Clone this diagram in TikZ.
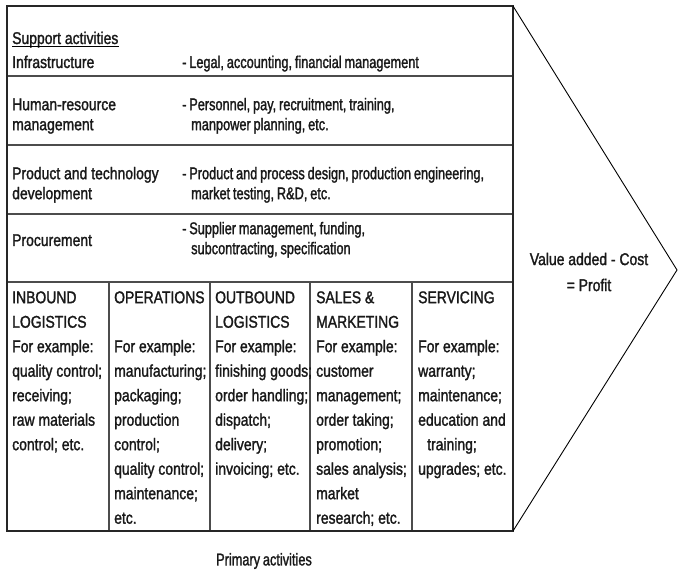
\documentclass[tikz,border=0pt]{standalone}
\usepackage{fontspec}
\setmainfont[FakeStretch=0.82, FakeBold=1.5]{Liberation Sans}
\newfontfamily\descfont[FakeStretch=0.75, WordSpace=0.8, FakeBold=1.5]{Liberation Sans}
\newcommand{\mystrut}{\rule{0pt}{12.5pt}}
\begin{document}
\begin{tikzpicture}[x=1pt,y=-1pt,
  boxline/.style={line width=1.2pt, draw=black!85},
  rowsep/.style={line width=1.7pt, draw=black!70},
  colsep/.style={line width=1.3pt, draw=black!70},
  arrowline/.style={line width=0.9pt, draw=black},
  txt/.style={anchor=north west, inner sep=0pt, align=left, text=black!90,
              font=\fontsize{17}{20}\selectfont},
  desc/.style={anchor=north west, inner sep=0pt, align=left, text=black!90,
              font=\descfont\fontsize{17}{20}\selectfont},
  coltxt/.style={anchor=north west, inner sep=0pt, align=left, text=black!90,
              font=\fontsize{17}{24.5}\selectfont},
  single/.style={anchor=base west, inner sep=0pt, text=black!90,
              font=\fontsize{17}{20}\selectfont}]
\useasboundingbox (0,0) rectangle (678,572);
% frame
\coordinate (tl) at (7,6);
\coordinate (tr) at (513,6);
\coordinate (br) at (513,531);
\coordinate (bl) at (7,531);
\coordinate (tip) at (677,270);
\draw[rowsep] (7,76) -- (513,76);
\draw[rowsep] (7,145) -- (513,145);
\draw[rowsep] (7,214) -- (513,214);
\draw[rowsep] (7,282) -- (513,282);
\draw[colsep] (109,282) -- (109,531);
\draw[colsep] (210,282) -- (210,531);
\draw[colsep] (310,282) -- (310,531);
\draw[colsep] (412,282) -- (412,531);
\draw[boxline] (tl) rectangle (br);
\draw[arrowline] (tr) -- (tip) -- (br);
% support activities
\node[single] (sa) at (12,44) {Support activities};
\draw[line width=0.9pt] ([yshift=-2.5pt]sa.base west) -- ([yshift=-2.5pt]sa.base east);
\node[single] (infra) at (12,68) {Infrastructure};
\node[single, font=\descfont\fontsize{17}{20}\selectfont] (infrad) at (182,68) {- Legal, accounting, financial management};
\node[txt] (hr) at (12,97.5) {\mystrut Human-resource\\management};
\node[desc] (hrd) at (182,97.5) {\mystrut - Personnel, pay, recruitment, training,\\\hspace*{9pt}manpower planning, etc.};
\node[txt] (ptd) at (12,166.5) {\mystrut Product and technology\\development};
\node[desc] (ptdd) at (182,166.5) {\mystrut - Product and process design, production engineering,\\\hspace*{9pt}market testing, R\&D, etc.};
\node[single] (proc) at (12,246) {Procurement};
\node[desc] (procd) at (182,221.5) {\mystrut - Supplier management, funding,\\\hspace*{9pt}subcontracting, specification};
% primary activities
\node[coltxt] (inb) at (12,290.5) {\mystrut INBOUND\\LOGISTICS\\For example:\\quality control;\\receiving;\\raw materials\\control; etc.};
\node[coltxt] (ops) at (114,290.5) {\mystrut OPERATIONS\\\mbox{}\\For example:\\manufacturing;\\packaging;\\production\\control;\\quality control;\\maintenance;\\etc.};
\node[coltxt] (outb) at (215,290.5) {\mystrut OUTBOUND\\LOGISTICS\\For example:\\finishing goods;\\order handling;\\dispatch;\\delivery;\\invoicing; etc.};
\node[coltxt] (sales) at (316,290.5) {\mystrut SALES \&\\MARKETING\\For example:\\customer\\management;\\order taking;\\promotion;\\sales analysis;\\market\\research; etc.};
\node[coltxt] (serv) at (418,290.5) {\mystrut SERVICING\\\mbox{}\\For example:\\warranty;\\maintenance;\\education and\\\hspace*{9pt}training;\\upgrades; etc.};
% margin
\node[inner sep=0pt, align=center, text=black!90, font=\fontsize{17}{26}\selectfont] (margin) at (589,272) {Value added - Cost\\= Profit};
\node[inner sep=0pt, text=black!90, font=\descfont\fontsize{17}{20}\selectfont] (prim) at (264,561) {Primary activities};
\end{tikzpicture}
\end{document}
